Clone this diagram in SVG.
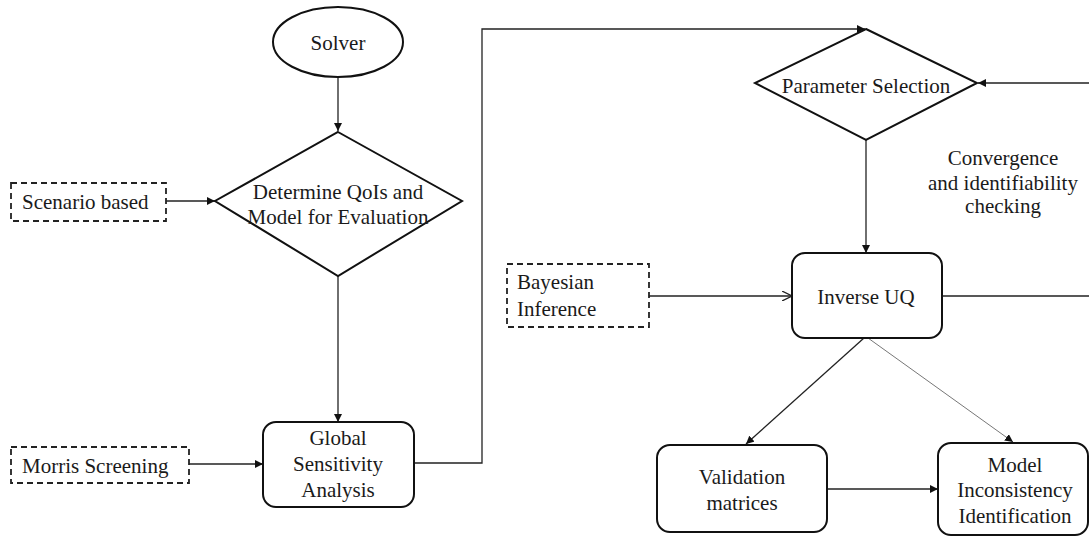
<svg xmlns="http://www.w3.org/2000/svg" width="1089" height="538" viewBox="0 0 1089 538">
<style>
  text { font-family: "Liberation Serif", "Times New Roman", serif; font-size: 21px; fill: #1a1a1a; }
  .c { text-anchor: middle; }
  .node { fill: #fff; stroke: #111; stroke-width: 2; }
  .dash { fill: #fff; stroke: #222; stroke-width: 1.8; stroke-dasharray: 6 4; }
  .conn { fill: none; stroke: #222; stroke-width: 1.3; }
  .thin { fill: none; stroke: #777; stroke-width: 1; }
</style>
<defs>
  <marker id="ah" viewBox="0 0 10 10" refX="10" refY="5" markerWidth="8" markerHeight="8" markerUnits="userSpaceOnUse" orient="auto">
    <path d="M0,0 L10,5 L0,10 z" fill="#111"/>
  </marker>
  <marker id="open" viewBox="0 0 10 10" refX="10" refY="5" markerWidth="10" markerHeight="10" markerUnits="userSpaceOnUse" orient="auto">
    <path d="M0,0 L10,5 L0,10" fill="none" stroke="#222" stroke-width="1.3"/>
  </marker>
</defs>

<g id="connectors">
  <path class="conn" d="M338 77 V131" marker-end="url(#ah)"/>
  <path class="conn" d="M166 201 H215" marker-end="url(#ah)"/>
  <path class="conn" d="M338 276 V422" marker-end="url(#ah)"/>
  <path class="conn" d="M189 464 H263" marker-end="url(#ah)"/>
  <path class="conn" d="M414 463 H482 V29 H865" marker-end="url(#ah)"/>
  <path class="conn" d="M942 296 H1096 V83 H978" marker-end="url(#ah)"/>
  <path class="conn" d="M866 140 V253" marker-end="url(#ah)"/>
  <path class="conn" d="M649 296 H792" marker-end="url(#open)"/>
  <path class="conn" d="M864 338 L746 444" marker-end="url(#ah)"/>
  <path class="thin" d="M868 338 L1013 442" marker-end="url(#ah)"/>
  <path class="conn" d="M827 489 H938" marker-end="url(#ah)"/>
</g>

<g id="solver">
  <ellipse class="node" cx="338" cy="42" rx="65" ry="35"/>
  <text class="c" x="338" y="50">Solver</text>
</g>

<g id="determine">
  <polygon class="node" points="338,132 462,201 338,276 215,201"/>
  <text class="c" x="338" y="199">Determine QoIs and</text>
  <text class="c" x="338" y="224">Model for Evaluation</text>
</g>

<g id="scenario">
  <rect class="dash" x="11" y="183" width="155" height="38"/>
  <text x="22" y="209">Scenario based</text>
</g>

<g id="morris">
  <rect class="dash" x="11" y="447" width="178" height="36"/>
  <text x="22" y="473">Morris Screening</text>
</g>

<g id="gsa">
  <rect class="node" x="263" y="422" width="151" height="85" rx="13"/>
  <text class="c" x="338" y="445">Global</text>
  <text class="c" x="338" y="471">Sensitivity</text>
  <text class="c" x="338" y="497">Analysis</text>
</g>

<g id="param">
  <polygon class="node" points="866,29 977,83 866,140 755,83"/>
  <text class="c" x="866" y="93">Parameter Selection</text>
</g>

<g id="convergence-label">
  <text class="c" x="1003" y="165">Convergence</text>
  <text class="c" x="1003" y="190">and identifiability</text>
  <text class="c" x="1003" y="213">checking</text>
</g>

<g id="bayesian">
  <rect class="dash" x="507" y="264" width="142" height="63"/>
  <text x="517" y="289">Bayesian</text>
  <text x="517" y="316">Inference</text>
</g>

<g id="inverse">
  <rect class="node" x="792" y="253" width="150" height="85" rx="13"/>
  <text class="c" x="866" y="304">Inverse UQ</text>
</g>

<g id="validation">
  <rect class="node" x="657" y="445" width="170" height="87" rx="13"/>
  <text class="c" x="742" y="484">Validation</text>
  <text class="c" x="742" y="510">matrices</text>
</g>

<g id="model">
  <rect class="node" x="938" y="443" width="150" height="92" rx="13"/>
  <text class="c" x="1015" y="472">Model</text>
  <text class="c" x="1015" y="497">Inconsistency</text>
  <text class="c" x="1015" y="523">Identification</text>
</g>
</svg>
